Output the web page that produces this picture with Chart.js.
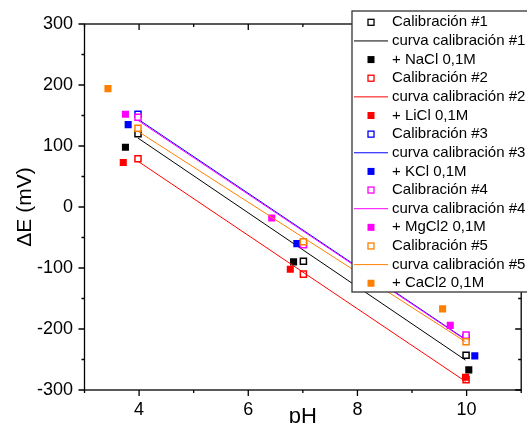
<!DOCTYPE html>
<html>
<head>
<meta charset="utf-8">
<script src="https://cdn.jsdelivr.net/npm/chart.js@4.4.1/dist/chart.umd.min.js"></script>
<style>
  html, body { margin: 0; padding: 0; background: #fff; overflow: hidden; }
  #wrap { width: 527px; height: 423px; }
</style>
</head>
<body>
<div id="wrap"><canvas id="grafico" width="527" height="423"></canvas></div>
<script>
// pH de los patrones (igual para las 5 calibraciones)
const phCalib = [3.98, 7.01, 9.99];
const calib1 = [120, -89, -243];
const calib2 = [79, -110, -283];
const calib3 = [152, -60, -214];
const calib4 = [147, -62, -210];
const calib5 = [129, -57, -221];

// rectas de calibración (extremos)
const phCurva = [3.98, 9.98];
const curva1 = [113, -251];
const curva2 = [75, -286];
const curva3 = [144, -217];
const curva4 = [142, -218];
const curva5 = [124, -221];

// adiciones de sal
const phNaCl = [3.75, 6.83, 10.04];
const eNaCl = [98, -90, -267];
const phLiCl = [3.71, 6.77, 9.98];
const eLiCl = [73, -102, -279];
const phKCl = [3.80, 6.89, 10.15];
const eKCl = [135, -60, -244];
const phMgCl2 = [3.75, 6.43, 9.70];
const eMgCl2 = [152, -18, -194];
const phCaCl2 = [3.43, 9.56];
const eCaCl2 = [194, -167];

// ejes
const ticksX = [4, 6, 8, 10];
const menoresX = [3, 5, 7, 9, 11];
const ticksY = [-300, -200, -100, 0, 100, 200, 300];
const menoresY = [-250, -150, -50, 50, 150, 250];

const FUENTE = '"Liberation Sans", Arial, sans-serif';
Chart.defaults.font.family = FUENTE;
Chart.defaults.color = '#000';

function puntos(xs, ys) {
    return xs.map((x, i) => ({ x: x, y: ys[i] }));
}

function abierta(label, ys, color) {
    return {
        label: label, tipo: 'abierta', data: puntos(phCalib, ys),
        pointStyle: 'rect', pointRadius: 4.3, pointHoverRadius: 4.3,
        borderColor: color, backgroundColor: '#fff', borderWidth: 1.5,
        showLine: false
    };
}

function curva(label, ys, color) {
    return {
        label: label, tipo: 'linea', data: puntos(phCurva, ys),
        borderColor: color, backgroundColor: color, borderWidth: 1,
        pointRadius: 0, showLine: true, fill: false
    };
}

function llena(label, xs, ys, color) {
    return {
        label: label, tipo: 'llena', data: puntos(xs, ys),
        pointStyle: 'rect', pointRadius: 5, pointHoverRadius: 5,
        borderColor: color, backgroundColor: color, borderWidth: 0,
        showLine: false
    };
}

const series = [
    abierta('Calibración #1', calib1, '#000000'),
    curva('curva calibración #1', curva1, '#000000'),
    llena('+ NaCl 0,1M', phNaCl, eNaCl, '#000000'),
    abierta('Calibración #2', calib2, '#ff0000'),
    curva('curva calibración #2', curva2, '#ff0000'),
    llena('+ LiCl 0,1M', phLiCl, eLiCl, '#ff0000'),
    abierta('Calibración #3', calib3, '#0000ff'),
    curva('curva calibración #3', curva3, '#0000ff'),
    llena('+ KCl 0,1M', phKCl, eKCl, '#0000ff'),
    abierta('Calibración #4', calib4, '#ff00ff'),
    curva('curva calibración #4', curva4, '#ff00ff'),
    llena('+ MgCl2 0,1M', phMgCl2, eMgCl2, '#ff00ff'),
    abierta('Calibración #5', calib5, '#ff8000'),
    curva('curva calibración #5', curva5, '#ff8000'),
    llena('+ CaCl2 0,1M', phCaCl2, eCaCl2, '#ff8000')
];
// las últimas series quedan encima, como en el original
series.forEach((s, i) => { s.order = -i; });

// marco con marcas hacia fuera (abajo/izq) y hacia dentro (arriba/der)
const marco = {
    id: 'marco',
    beforeDatasetsDraw(chart) {
        const { ctx, chartArea: a, scales: { x, y } } = chart;
        ctx.save();
        ctx.strokeStyle = '#000';
        ctx.lineWidth = 1.3;
        ctx.strokeRect(a.left, a.top, a.right - a.left, a.bottom - a.top);
        ctx.beginPath();
        const marcaX = (v, l) => {
            const px = x.getPixelForValue(v);
            ctx.moveTo(px, a.bottom); ctx.lineTo(px, a.bottom + l);
            ctx.moveTo(px, a.top); ctx.lineTo(px, a.top + l);
        };
        const marcaY = (v, l) => {
            const py = y.getPixelForValue(v);
            ctx.moveTo(a.left, py); ctx.lineTo(a.left - l, py);
            ctx.moveTo(a.right, py); ctx.lineTo(a.right - l, py);
        };
        ticksX.forEach(v => marcaX(v, 6));
        menoresX.forEach(v => marcaX(v, 3));
        ticksY.forEach(v => marcaY(v, 6));
        menoresY.forEach(v => marcaY(v, 3));
        ctx.stroke();
        ctx.restore();
    }
};

// leyenda propia, encima de todo
const leyenda = {
    id: 'leyenda',
    afterDraw(chart) {
        const ctx = chart.ctx;
        const caja = { x: 352, y: 11, w: 200, h: 281 };
        ctx.save();
        ctx.fillStyle = '#fff';
        ctx.fillRect(caja.x, caja.y, caja.w, caja.h);
        ctx.strokeStyle = '#333';
        ctx.lineWidth = 1.3;
        ctx.strokeRect(caja.x, caja.y, caja.w, caja.h);
        ctx.font = '15px ' + FUENTE;
        ctx.textBaseline = 'middle';
        ctx.textAlign = 'left';
        chart.data.datasets.forEach((ds, i) => {
            const yy = 22.3 + i * 18.64;
            if (ds.tipo === 'linea') {
                ctx.strokeStyle = ds.borderColor;
                ctx.lineWidth = 1;
                ctx.beginPath();
                ctx.moveTo(354, yy); ctx.lineTo(388, yy);
                ctx.stroke();
            } else if (ds.tipo === 'abierta') {
                ctx.fillStyle = '#fff';
                ctx.fillRect(368, yy - 3, 6, 6);
                ctx.strokeStyle = ds.borderColor;
                ctx.lineWidth = 1.3;
                ctx.strokeRect(368, yy - 3, 6, 6);
            } else {
                ctx.fillStyle = ds.backgroundColor;
                ctx.fillRect(367.5, yy - 3.5, 7, 7);
            }
            ctx.fillStyle = '#000';
            ctx.fillText(ds.label, 392, yy);
        });
        ctx.restore();
    }
};

new Chart(document.getElementById('grafico'), {
    type: 'scatter',
    data: { datasets: series },
    options: {
        responsive: false,
        animation: false,
        layout: { padding: { top: 24, right: 5, left: 0, bottom: 0 } },
        plugins: { legend: { display: false }, tooltip: { enabled: false } },
        scales: {
            x: {
                type: 'linear', min: 3, max: 11,
                afterBuildTicks: s => { s.ticks = ticksX.map(v => ({ value: v })); },
                afterFit: s => { s.height = 33; },
                grid: { display: false, drawTicks: false },
                border: { display: false },
                ticks: { padding: 9, font: { size: 18 }, color: '#000', maxRotation: 0 },
                title: { display: true, text: 'pH', font: { size: 22 }, color: '#000', padding: { top: 0, bottom: -7.6 } }
            },
            y: {
                type: 'linear', min: -300, max: 300,
                afterBuildTicks: s => { s.ticks = ticksY.map(v => ({ value: v })); },
                afterFit: s => { s.width = 84.5; },
                grid: { display: false, drawTicks: false },
                border: { display: false },
                ticks: { padding: 11.5, font: { size: 18 }, color: '#000' },
                title: { display: true, text: 'ΔE (mV)', font: { size: 21 }, color: '#000', padding: { top: 12.5, bottom: 0 } }
            }
        }
    },
    plugins: [marco, leyenda]
});
</script>
</body>
</html>
